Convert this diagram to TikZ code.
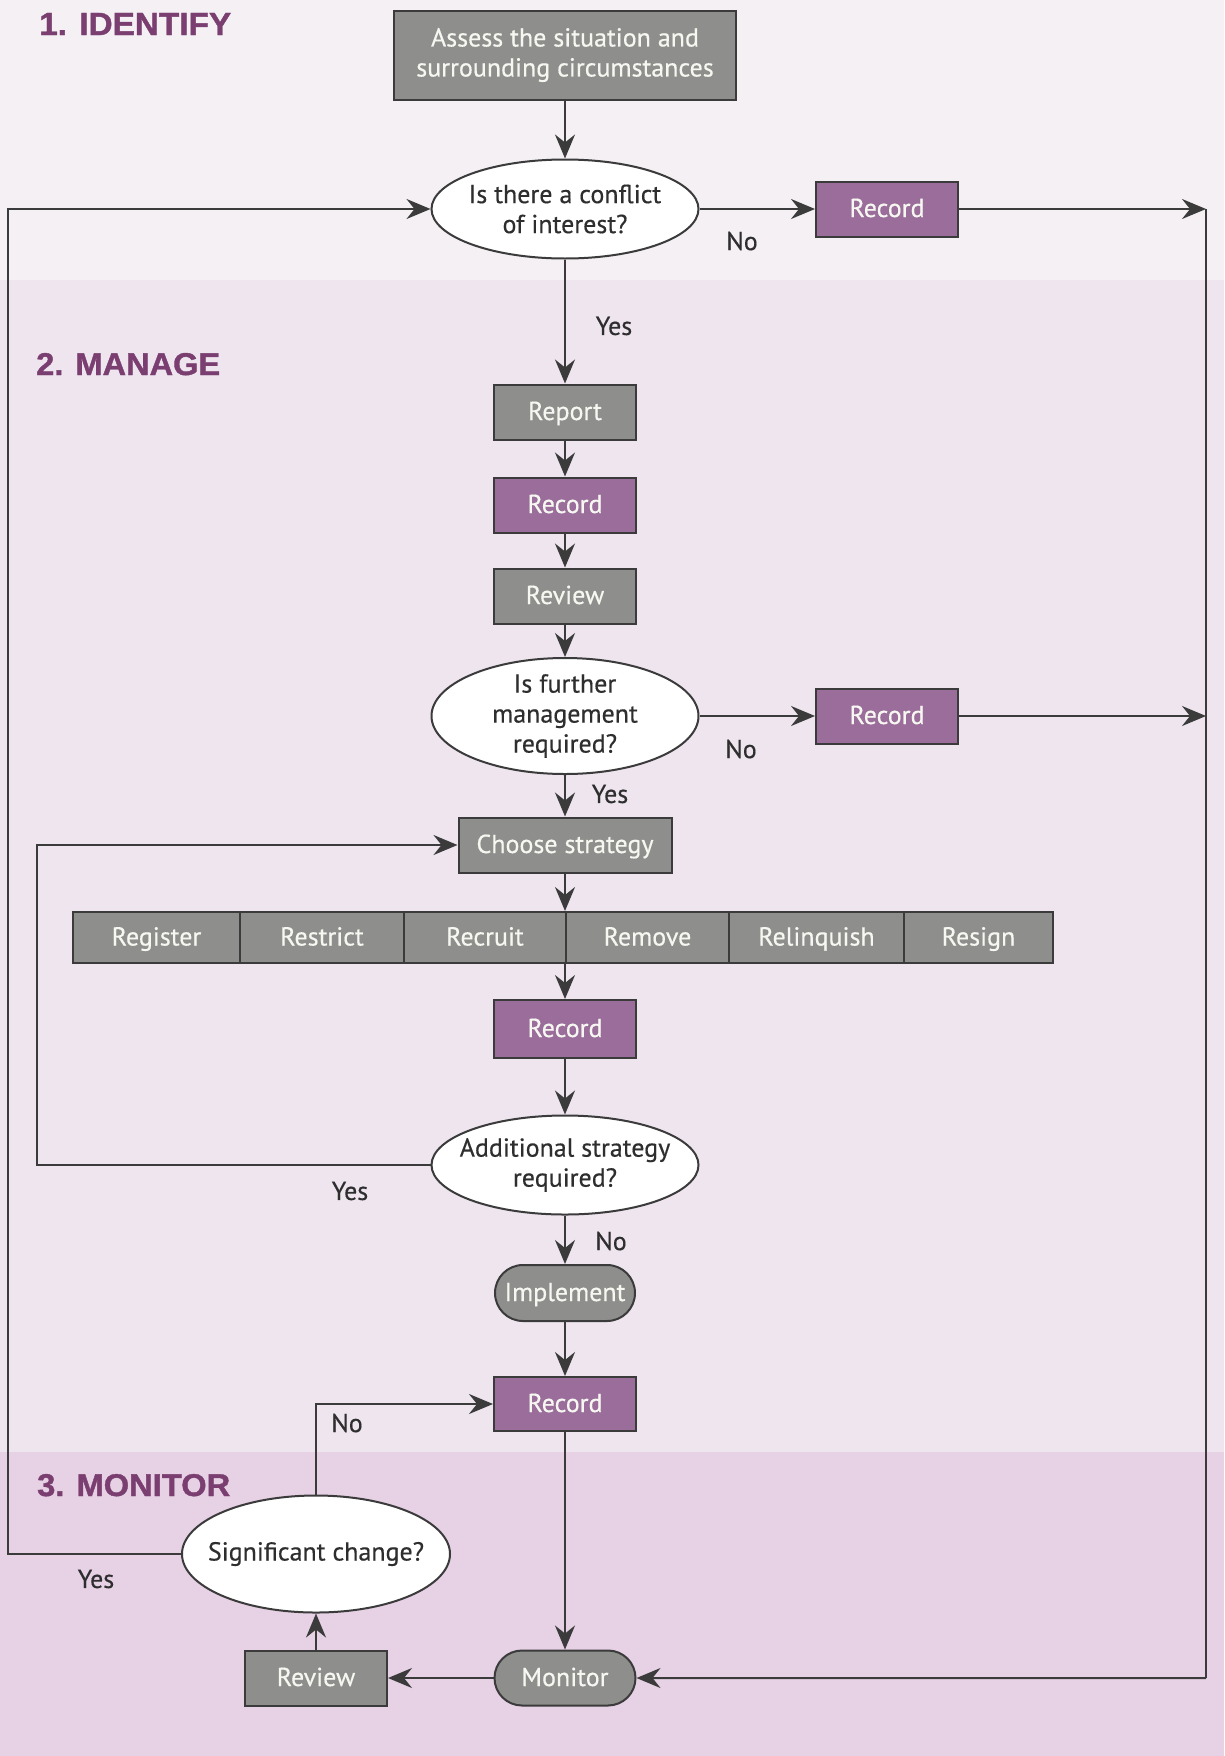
\documentclass[tikz,border=0pt]{standalone}
\usepackage{fontspec}
\setmainfont[FakeBold=0.4]{PT Sans}
\newfontfamily\headfont[FakeBold=1.2]{Liberation Sans}
\usetikzlibrary{arrows.meta,shapes.geometric,shapes.misc}
\definecolor{lineC}{HTML}{3B3B3B}
\definecolor{grayC}{HTML}{8E8E8C}
\definecolor{purpC}{HTML}{9A6D9A}
\definecolor{headC}{HTML}{7A3F70}
\definecolor{textC}{HTML}{2E2E2E}
\definecolor{bgmid}{HTML}{EEE5EF}
\definecolor{bgtop}{HTML}{F4F0F4}
\definecolor{bgbot}{HTML}{E7D1E5}
\definecolor{boxTxt}{HTML}{F7F7F2}
\tikzset{
  txt/.style={font=\fontsize{26}{30}\selectfont},
  box/.style={txt, draw=lineC, line width=2pt, minimum width=142pt, minimum height=55pt,
              inner sep=0pt, text=boxTxt, align=center},
  oneline/.style={text height=21pt, text depth=5pt},
  graybox/.style={box, fill=grayC},
  purplebox/.style={box, oneline, fill=purpC},
  pill/.style={graybox, oneline, rounded rectangle, rounded rectangle arc length=180},
  decision/.style={ellipse, draw=lineC, line width=2pt, fill=white, minimum width=267pt,
              minimum height=99pt, inner sep=0pt},
  qtext/.style={txt, align=center, text=textC, inner sep=0pt},
  line/.style={line width=2pt, draw=lineC},
  conn/.style={line, -{Stealth[length=24pt,width=20pt,inset=8pt]}},
  lbl/.style={txt, text=textC, inner sep=0pt},
  head/.style={text=headC, anchor=base west, inner sep=0pt, font=\headfont\bfseries\fontsize{30}{30}\selectfont}
}
\begin{document}
\begin{tikzpicture}[x=1pt,y=-1pt]
\useasboundingbox (0,0) rectangle (1224,1756);
\fill[bgmid] (0,0) rectangle (1224,1756);
\fill[bgtop] (0,0) rectangle (1224,280);
\fill[bgbot] (0,1452) rectangle (1224,1756);

% headings
\node[head] (h1) at (39,35) {\resizebox{192pt}{22pt}{1. IDENTIFY}};
\node[head] (h2) at (36,375) {\resizebox{184pt}{22pt}{2. MANAGE}};
\node[head] (h3) at (37,1496) {\resizebox{193pt}{22pt}{3. MONITOR}};

% main column
\node[graybox, minimum width=342pt, minimum height=89pt] (assess) at (565,55) {Assess the situation and\\surrounding circumstances};
\node[decision] (q1) at (565,209) {};
\node[qtext] (q1t) at (q1) {Is there a conflict\\of interest?};
\node[purplebox] (rec1) at (887,209) {Record};
\node[graybox, oneline] (report) at (565,412) {Report};
\node[purplebox] (rec2) at (565,505) {Record};
\node[graybox, oneline] (review1) at (565,596) {Review};
\node[decision, minimum height=116pt] (q2) at (565,716) {};
\node[qtext] (q2t) at (q2) {Is further\\management\\required?};
\node[purplebox] (rec3) at (887,716) {Record};
\node[graybox, oneline, minimum width=213pt] (choose) at (565,845) {Choose strategy};

% strategy bar
\tikzset{strat/.style={graybox, oneline, minimum height=51pt}}
\node[strat, minimum width=167pt] (s1) at (156.5,937.5) {Register};
\node[strat, minimum width=164pt] (s2) at (322,937.5) {Restrict};
\node[strat, minimum width=162pt] (s3) at (485,937.5) {Recruit};
\node[strat, minimum width=163pt] (s4) at (647.5,937.5) {Remove};
\node[strat, minimum width=175pt] (s5) at (816.5,937.5) {Relinquish};
\node[strat, minimum width=149pt] (s6) at (978.5,937.5) {Resign};

\node[purplebox, minimum height=58pt] (rec4) at (565,1029) {Record};
\node[decision] (q3) at (565,1165) {};
\node[qtext] (q3t) at (q3) {Additional strategy\\required?};
\node[pill, minimum width=140pt, minimum height=56pt] (impl) at (565,1293) {Implement};
\node[purplebox, minimum height=54pt] (rec5) at (565,1404) {Record};
\node[decision, minimum width=268pt, minimum height=117pt] (q4) at (316,1554) {};
\node[qtext] (q4t) at (q4) {Significant change?};
\node[graybox, oneline] (review2) at (316,1678) {Review};
\node[pill, minimum width=141pt] (monitor) at (565,1678) {Monitor};

% helper coordinates
\coordinate (rtop) at (1206,209);
\coordinate (rmid) at (1206,716);
\coordinate (rbot) at (1206,1678);
\coordinate (lx) at (8,0);
\coordinate (ix) at (37,0);

% connectors
\draw[conn] (assess) -- (q1);
\draw[conn] (q1) -- (rec1);
\draw[conn] (rec1) -- (rtop);
\draw[conn] (q1) -- (report);
\draw[conn] (report) -- (rec2);
\draw[conn] (rec2) -- (review1);
\draw[conn] (review1) -- (q2);
\draw[conn] (q2) -- (rec3);
\draw[conn] (rec3) -- (rmid);
\draw[line] (rtop) -- (rbot);
\draw[conn] (rbot) -- (monitor);
\draw[conn] (q2) -- (choose);
\draw[conn] (choose) -- (choose |- s4.north);
\draw[conn] (s4.south west) -- (rec4);
\draw[conn] (rec4) -- (q3);
\draw[conn] (q3.west) -- (q3.west -| ix) |- (choose.west);
\draw[conn] (q3) -- (impl);
\draw[conn] (impl) -- (rec5);
\draw[conn] (rec5) -- (monitor);
\draw[conn] (monitor) -- (review2);
\draw[conn] (review2) -- (q4);
\draw[conn] (q4.north) |- (rec5.west);
\draw[conn] (q4.west) -- (q4.west -| lx) |- (q1.west);

% labels
\node[lbl] (l1) at (742,241) {No};
\node[lbl] (l2) at (614,326) {Yes};
\node[lbl] (l3) at (741,749) {No};
\node[lbl] (l4) at (610,794) {Yes};
\node[lbl] (l5) at (350,1191) {Yes};
\node[lbl] (l6) at (611,1241) {No};
\node[lbl] (l7) at (347,1423) {No};
\node[lbl] (l8) at (96,1579) {Yes};
\end{tikzpicture}
\end{document}
